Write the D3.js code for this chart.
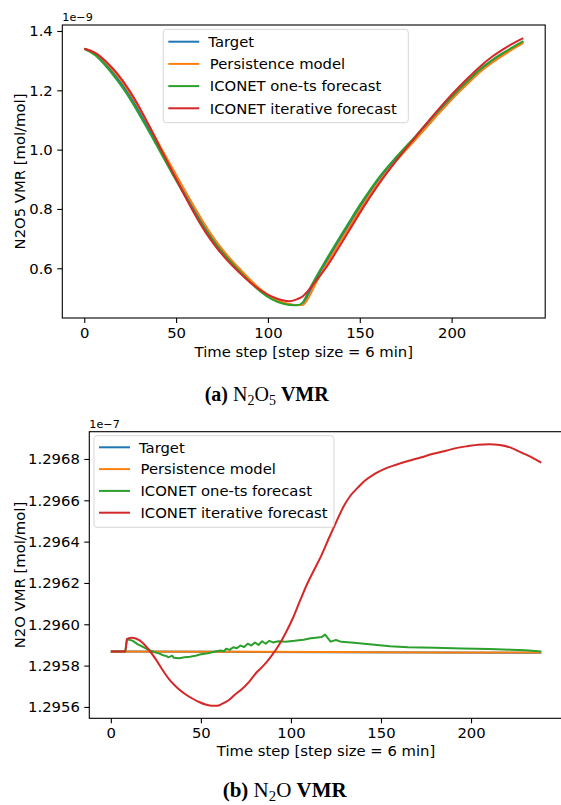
<!DOCTYPE html>
<html>
<head>
<meta charset="utf-8">
<script src="https://cdn.jsdelivr.net/npm/d3@7"></script>
<style>
  body { margin: 0; background: #fff; }
  svg { display: block; font-family: "DejaVu Sans", sans-serif; }
</style>
</head>
<body>
<script>
// ---- N2O5 panel (values in 1e-9 mol/mol) ----
const n2o5Steps = [0, 6, 12, 18, 24, 30, 36, 42, 48, 54, 60, 66, 72, 78, 84, 90, 96, 102, 108, 112, 116, 119, 122, 126,
  132, 138, 144, 150, 156, 162, 168, 174, 180, 186, 192, 198, 204, 210, 216, 222, 228, 234, 239];
const n2o5Target = [1.340, 1.322, 1.287, 1.242, 1.190, 1.128, 1.062, 0.993, 0.926, 0.860, 0.795, 0.734, 0.681, 0.636,
  0.596, 0.558, 0.524, 0.499, 0.484, 0.478, 0.476, 0.478, 0.512, 0.560, 0.624, 0.686, 0.746, 0.806, 0.862, 0.912,
  0.956, 0.998, 1.038, 1.080, 1.122, 1.162, 1.200, 1.236, 1.270, 1.298, 1.322, 1.345, 1.363];
const n2o5Persistence = [1.340, 1.325, 1.293, 1.250, 1.199, 1.139, 1.073, 1.004, 0.937, 0.871, 0.806, 0.744, 0.689,
  0.643, 0.602, 0.564, 0.529, 0.502, 0.486, 0.479, 0.476, 0.477, 0.500, 0.549, 0.614, 0.676, 0.736, 0.796, 0.853,
  0.904, 0.949, 0.991, 1.031, 1.073, 1.115, 1.155, 1.194, 1.230, 1.264, 1.293, 1.318, 1.341, 1.360];
const n2o5OneTs = [1.340, 1.318, 1.280, 1.233, 1.180, 1.118, 1.053, 0.985, 0.918, 0.853, 0.789, 0.729, 0.677, 0.633,
  0.593, 0.555, 0.521, 0.496, 0.481, 0.476, 0.475, 0.485, 0.522, 0.568, 0.632, 0.694, 0.754, 0.813, 0.868, 0.918,
  0.962, 1.003, 1.043, 1.085, 1.126, 1.166, 1.204, 1.240, 1.274, 1.302, 1.326, 1.348, 1.366];
const n2o5Iterative = [1.340, 1.326, 1.296, 1.256, 1.205, 1.143, 1.072, 0.998, 0.925, 0.853, 0.784, 0.722, 0.670,
  0.626, 0.588, 0.554, 0.526, 0.505, 0.492, 0.489, 0.496, 0.506, 0.525, 0.556, 0.605, 0.664, 0.725, 0.786, 0.844,
  0.898, 0.948, 0.995, 1.040, 1.086, 1.130, 1.172, 1.211, 1.248, 1.283, 1.313, 1.338, 1.360, 1.376];

// ---- N2O panel (values in 1e-7 mol/mol) ----
const n2oFlatSteps = [0, 60, 120, 180, 239];
const n2oTarget = [1.295868, 1.295867, 1.295865, 1.295863, 1.295862];
const n2oPersistence = [1.295868, 1.295867, 1.295866, 1.295864, 1.295863];
const n2oOneTsSteps = [0, 8, 9, 12, 15, 18, 21, 24, 27, 29, 31, 32, 34, 35, 38, 41, 44, 47, 50, 54, 58, 61, 63, 64,
  66, 68, 70, 72, 74, 76, 78, 80, 82, 84, 86, 88, 90, 93, 97, 102, 107, 111, 115, 117, 119, 122, 125, 128, 135, 145,
  155, 165, 180, 195, 210, 222, 230, 239];
const n2oOneTs = [1.295868, 1.295868, 1.295928, 1.295921, 1.295903, 1.295890, 1.295876, 1.295866, 1.295858, 1.295850,
  1.295846, 1.295840, 1.295848, 1.295838, 1.295836, 1.295840, 1.295843, 1.295848, 1.295855, 1.295860, 1.295868,
  1.295873, 1.295870, 1.295882, 1.295876, 1.295889, 1.295884, 1.295897, 1.295890, 1.295906, 1.295897, 1.295912,
  1.295900, 1.295918, 1.295906, 1.295920, 1.295912, 1.295918, 1.295916, 1.295920, 1.295925, 1.295932, 1.295936,
  1.295938, 1.295950, 1.295916, 1.295924, 1.295915, 1.295911, 1.295902, 1.295894, 1.295889, 1.295886, 1.295883,
  1.295880, 1.295877, 1.295874, 1.295868];
const n2oIterativeSteps = [0, 8, 9, 12, 16, 21, 25, 29, 33, 37, 41, 45, 49, 53, 56, 59, 62, 65, 69, 73, 77, 81, 85,
  89, 93, 97, 101, 105, 109, 113, 117, 121, 125, 129, 133, 137, 141, 146, 152, 158, 165, 172, 179, 186, 193, 198,
  204, 210, 216, 222, 228, 234, 239];
const n2oIterative = [1.295868, 1.295868, 1.295929, 1.295935, 1.295922, 1.295878, 1.295830, 1.295775, 1.295727,
  1.295692, 1.295664, 1.295642, 1.295624, 1.295611, 1.295606, 1.295606, 1.295616, 1.295630, 1.295660, 1.295688,
  1.295724, 1.295768, 1.295802, 1.295845, 1.295895, 1.295957, 1.296028, 1.296113, 1.296195, 1.296265, 1.296335,
  1.296415, 1.296492, 1.296566, 1.296622, 1.296660, 1.296695, 1.296725, 1.296752, 1.296771, 1.296790, 1.296807,
  1.296825, 1.296840, 1.296855, 1.296862, 1.296869, 1.296871, 1.296868, 1.296855, 1.296831, 1.296807, 1.296782];

const seriesNames = ["Target", "Persistence model", "ICONET one-ts forecast", "ICONET iterative forecast"];
const seriesColors = ["#1f77b4", "#ff7f0e", "#2ca02c", "#d62728"];
const xTicks = [0, 50, 100, 150, 200];
const n2o5YTicks = [0.6, 0.8, 1.0, 1.2, 1.4];
const n2oYTicks = [1.2956, 1.2958, 1.2960, 1.2962, 1.2964, 1.2966, 1.2968];

const FONT = 14.8;

const svg = d3.select("body").append("svg").attr("width", 561).attr("height", 805);

function drawPanel(p) {
  const x = d3.scaleLinear().domain([-11.95, 250.95]).range([p.left, p.right]);
  const y = d3.scaleLinear().domain(p.yDomain).range([p.bottom, p.top]);
  const g = svg.append("g");

  // lines, drawn in legend order so red ends on top
  p.series.forEach((s, i) => {
    const pts = s.steps.map((t, k) => [t, s.values[k]]);
    g.append("path")
      .datum(pts)
      .attr("fill", "none")
      .attr("stroke", seriesColors[i])
      .attr("stroke-width", 2)
      .attr("stroke-linejoin", "round")
      .attr("d", d3.line().x(d => x(d[0])).y(d => y(d[1])).curve(s.curve || d3.curveMonotoneX));
  });

  // frame
  g.append("rect")
    .attr("x", p.left).attr("y", p.top)
    .attr("width", p.right - p.left).attr("height", p.bottom - p.top)
    .attr("fill", "none").attr("stroke", "#000").attr("stroke-width", 1.1);

  const xAxis = g.append("g")
    .attr("transform", `translate(0,${p.bottom})`)
    .call(d3.axisBottom(x).tickValues(xTicks).tickSize(5).tickPadding(4.5).tickFormat(d3.format("d")));
  const yAxis = g.append("g")
    .attr("transform", `translate(${p.left},0)`)
    .call(d3.axisLeft(y).tickValues(p.yTicks).tickSize(5).tickPadding(4.5).tickFormat(d3.format(p.yFormat)));
  [xAxis, yAxis].forEach(a => {
    a.select(".domain").remove();
    a.selectAll("line").attr("stroke", "#000").attr("stroke-width", 1.1);
    a.selectAll("text").attr("fill", "#000").style("font-size", FONT + "px").style("font-family", "DejaVu Sans");
  });

  // offset text
  g.append("text")
    .attr("x", p.left).attr("y", p.top - 4)
    .style("font-size", "11.2px")
    .text(p.offset);

  // axis labels
  g.append("text")
    .attr("x", (p.left + p.right) / 2).attr("y", p.xLabelY)
    .attr("text-anchor", "middle").style("font-size", FONT + "px")
    .text("Time step [step size = 6 min]");
  g.append("text")
    .attr("transform", `translate(${p.yLabelX},${(p.top + p.bottom) / 2}) rotate(-90)`)
    .attr("text-anchor", "middle").style("font-size", FONT + "px")
    .text(p.yLabel);

  // legend
  const lg = g.append("g").attr("transform", `translate(${p.legend.x},${p.legend.y})`);
  lg.append("rect")
    .attr("width", p.legend.w).attr("height", p.legend.h)
    .attr("rx", 3).attr("fill", "#fff").attr("fill-opacity", 0.8)
    .attr("stroke", "#d6d6d6").attr("stroke-width", 1);
  seriesNames.forEach((name, i) => {
    const ry = p.legend.row0 + i * p.legend.step;
    lg.append("line")
      .attr("x1", 5).attr("x2", 36).attr("y1", ry).attr("y2", ry)
      .attr("stroke", seriesColors[i]).attr("stroke-width", 2);
    lg.append("text")
      .attr("x", 45).attr("dx", i === 0 ? 0 : 1.5).attr("y", ry).attr("dy", "0.36em")
      .style("font-size", FONT + "px")
      .text(name);
  });

  // caption
  const cap = svg.append("text")
    .attr("x", p.caption.x).attr("y", p.caption.y)
    .attr("text-anchor", "middle")
    .style("font-family", "'Liberation Serif', serif")
    .style("font-size", p.caption.size + "px")
    .style("white-space", "pre");
  p.caption.parts.forEach(part => {
    const ts = cap.append("tspan").text(part.t);
    if (part.bold) ts.attr("font-weight", "bold");
    if (part.sub) ts.style("font-size", (p.caption.size * 0.7) + "px").attr("dy", 4);
    if (part.up) ts.attr("dy", -4);
  });
}

drawPanel({
  left: 62.3, right: 545.2, top: 25, bottom: 318,
  yDomain: [0.4324, 1.4202], yTicks: n2o5YTicks, yFormat: ".1f",
  offset: "1e\u22129",
  yLabel: "N2O5 VMR [mol/mol]", yLabelX: 25, xLabelY: 357,
  series: [
    { steps: n2o5Steps, values: n2o5Target },
    { steps: n2o5Steps, values: n2o5Persistence },
    { steps: n2o5Steps, values: n2o5OneTs },
    { steps: n2o5Steps, values: n2o5Iterative }
  ],
  legend: { x: 163.3, y: 29.3, w: 245, h: 93.4, row0: 12.4, step: 22.2 },
  caption: {
    x: 266.7, y: 401, size: 20,
    parts: [{ t: "(a)", bold: true }, { t: " N" }, { t: "2", sub: true }, { t: "O", up: true },
      { t: "5", sub: true }, { t: " ", up: true }, { t: "VMR", bold: true }]
  }
});

drawPanel({
  left: 89.3, right: 562.8, top: 431.7, bottom: 718.3,
  yDomain: [1.295545, 1.296932], yTicks: n2oYTicks, yFormat: ".4f",
  offset: "1e\u22127",
  yLabel: "N2O VMR [mol/mol]", yLabelX: 24.5, xLabelY: 756,
  series: [
    { steps: n2oFlatSteps, values: n2oTarget, curve: d3.curveLinear },
    { steps: n2oFlatSteps, values: n2oPersistence, curve: d3.curveLinear },
    { steps: n2oOneTsSteps, values: n2oOneTs, curve: d3.curveLinear },
    { steps: n2oIterativeSteps, values: n2oIterative }
  ],
  legend: { x: 94, y: 435.7, w: 240, h: 91.6, row0: 11.6, step: 21.8 },
  caption: {
    x: 284.7, y: 797, size: 21,
    parts: [{ t: "(b)", bold: true }, { t: " N" }, { t: "2", sub: true }, { t: "O", up: true },
      { t: " " }, { t: "VMR", bold: true }]
  }
});
</script>
</body>
</html>
